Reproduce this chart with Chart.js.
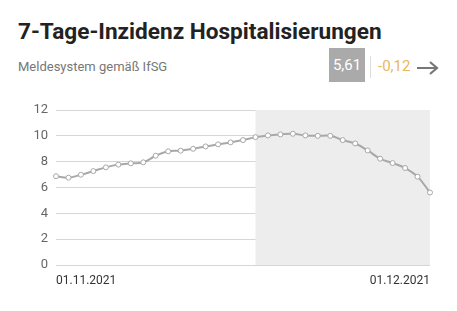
<!DOCTYPE html>
<html>
<head>
<meta charset="utf-8">
<script src="https://cdn.jsdelivr.net/npm/chart.js@4"></script>
<style>
  body { margin: 0; width: 457px; height: 311px; background: #fff; font-family: Roboto, sans-serif; position: relative; overflow: hidden; }
  #title { position: absolute; left: 18px; top: 18px; font-size: 22.6px; font-weight: bold; color: #222; white-space: nowrap; }
  #sub { position: absolute; left: 18px; top: 59px; font-size: 13px; color: #777; }
  #box { position: absolute; left: 329px; top: 48px; width: 36px; height: 34px; background: #aaa; color: #fff; font-size: 15px; line-height: 34px; text-align: center; }
  #sep { position: absolute; left: 370px; top: 56px; width: 1px; height: 22px; background: #ddd; }
  #delta { position: absolute; left: 378px; top: 57px; font-size: 15px; color: #e9b75e; }
  #arrow { position: absolute; left: 415px; top: 60px; }
  #wrap { position: absolute; left: 0; top: 100px; width: 457px; height: 190px; }
</style>
</head>
<body>
<div id="title">7-Tage-Inzidenz Hospitalisierungen</div>
<div id="sub">Meldesystem gemäß IfSG</div>
<div id="box">5,61</div>
<div id="sep"></div>
<div id="delta">-0,12</div>
<svg id="arrow" width="26" height="16" viewBox="0 0 26 16">
  <path d="M2 8 H22 M15 2 L22 8 L15 14" stroke="#777" stroke-width="2.2" fill="none"/>
</svg>
<div id="wrap"><canvas id="chart"></canvas></div>
<script>
const labels = ['01.11.2021','02.11.2021','03.11.2021','04.11.2021','05.11.2021','06.11.2021','07.11.2021','08.11.2021','09.11.2021','10.11.2021',
  '11.11.2021','12.11.2021','13.11.2021','14.11.2021','15.11.2021','16.11.2021','17.11.2021','18.11.2021','19.11.2021','20.11.2021',
  '21.11.2021','22.11.2021','23.11.2021','24.11.2021','25.11.2021','26.11.2021','27.11.2021','28.11.2021','29.11.2021','30.11.2021','01.12.2021'];
const values = [6.87, 6.76, 6.99, 7.27, 7.56, 7.77, 7.87, 7.95, 8.46, 8.80,
  8.85, 9.00, 9.18, 9.34, 9.49, 9.67, 9.90, 10.03, 10.11, 10.16,
  10.03, 10.00, 10.00, 9.67, 9.41, 8.87, 8.23, 7.89, 7.51, 6.84, 5.61];
const shadeFrom = 16; // index where the incomplete period starts
const yTicks = [0, 2, 4, 6, 8, 10, 12];

const shade = {
  id: 'shade',
  beforeDatasetsDraw(chart) {
    const { ctx, chartArea, scales } = chart;
    const x0 = scales.x.getPixelForValue(shadeFrom);
    ctx.save();
    ctx.fillStyle = '#ededed';
    ctx.fillRect(x0, chartArea.top, chartArea.right - x0, chartArea.bottom - chartArea.top);
    ctx.restore();
  }
};

new Chart(document.getElementById('chart'), {
  type: 'line',
  data: {
    labels: labels,
    datasets: [{
      data: values,
      borderColor: '#a8a8a8',
      borderWidth: 2,
      backgroundColor: '#fff',
      pointBackgroundColor: '#fff',
      pointBorderColor: '#a8a8a8',
      pointBorderWidth: 1,
      pointRadius: 2.5,
      tension: 0.4
    }]
  },
  options: {
    responsive: true,
    maintainAspectRatio: false,
    animation: false,
    layout: { padding: { top: 10, right: 27, left: 0, bottom: 0 } },
    plugins: { legend: { display: false }, tooltip: { enabled: false } },
    scales: {
      x: {
        grid: { display: false },
        border: { display: false },
        afterFit(axis) { axis.height = 25; axis.paddingLeft = 0; axis.paddingRight = 0; },
        ticks: {
          autoSkip: false,
          maxRotation: 0,
          align: 'inner',
          padding: 1,
          color: '#333',
          font: { family: 'Roboto', size: 12 },
          callback(v, i) { return (i === 0 || i === labels.length - 1) ? labels[i] : null; }
        }
      },
      y: {
        min: 0,
        max: 12,
        afterFit(axis) { axis.width = 56; axis.paddingTop = 0; axis.paddingBottom = 0; },
        afterBuildTicks(axis) { axis.ticks = yTicks.map(v => ({ value: v })); },
        grid: { color: '#d6d6d6', drawTicks: false },
        border: { display: false },
        ticks: { padding: 8, color: '#666', font: { family: 'Roboto', size: 13 } }
      }
    }
  },
  plugins: [shade]
});
</script>
</body>
</html>
